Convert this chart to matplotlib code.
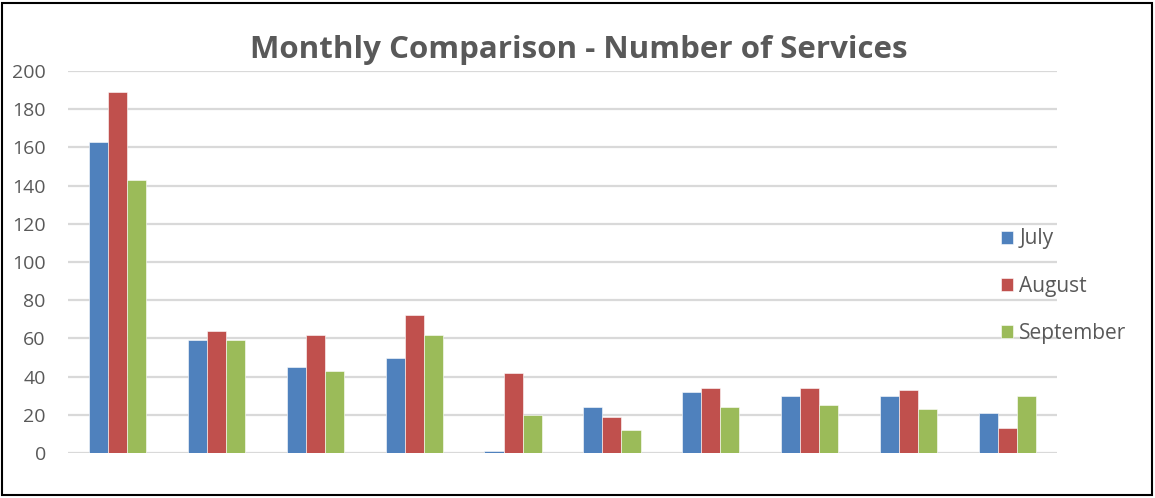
import matplotlib
matplotlib.use("Agg")
import matplotlib.pyplot as plt
from matplotlib.patches import Rectangle
import numpy as np

plt.rcParams['font.family'] = ['Open Sans', 'DejaVu Sans']

categories = list(range(1, 11))
july = [163, 59, 45, 50, 1, 24, 32, 30, 30, 21]
august = [189, 64, 62, 72, 42, 19, 34, 34, 33, 13]
september = [143, 59, 43, 62, 20, 12, 24, 25, 23, 30]
series_names = ["July", "August", "September"]
colors = ["#4F81BD", "#C0504D", "#9BBB59"]
y_ticks = [0, 20, 40, 60, 80, 100, 120, 140, 160, 180, 200]

W, H = 1155, 498
fig = plt.figure(figsize=(W / 100, H / 100), dpi=100)
ax = fig.add_axes([68 / W, 1 - 453 / H, (1057 - 68) / W, (453 - 71) / H])

x = np.arange(len(categories))
bw = 0.193
for i, (vals, name, c) in enumerate(zip([july, august, september], series_names, colors)):
    ax.bar(x + (i - 1) * bw, vals, width=bw, color=c, edgecolor="white",
           linewidth=0.4, label=name, zorder=3)

ax.set_xlim(-0.5, len(categories) - 0.5)
ax.set_ylim(0, 200)
ax.set_yticks(y_ticks)
ax.set_xticks([])
ax.yaxis.grid(True, color="#d9d9d9", linewidth=1.6, zorder=0)
for s in ax.spines.values():
    s.set_visible(False)
ax.tick_params(axis="y", length=0, pad=16, labelsize=14, labelcolor="#595959")

fig.text(0.501, 1 - 50 / H, "Monthly Comparison - Number of Services",
         ha="center", va="center", fontsize=22.5, fontweight="bold", color="#595959")

leg = fig.legend(loc="center left", bbox_to_anchor=(1001 / W, 1 - 286 / H),
                 frameon=False, fontsize=15, handlelength=0.58, handleheight=0.58,
                 handletextpad=0.3, labelspacing=1.25, borderpad=0, borderaxespad=0,
                 labelcolor="#595959")

fig.patches.append(Rectangle((2 / W, 3 / H), (W - 5) / W, (H - 6) / H,
                             transform=fig.transFigure, fill=False,
                             edgecolor="black", linewidth=1.5))

fig.savefig("out.png", dpi=100)
